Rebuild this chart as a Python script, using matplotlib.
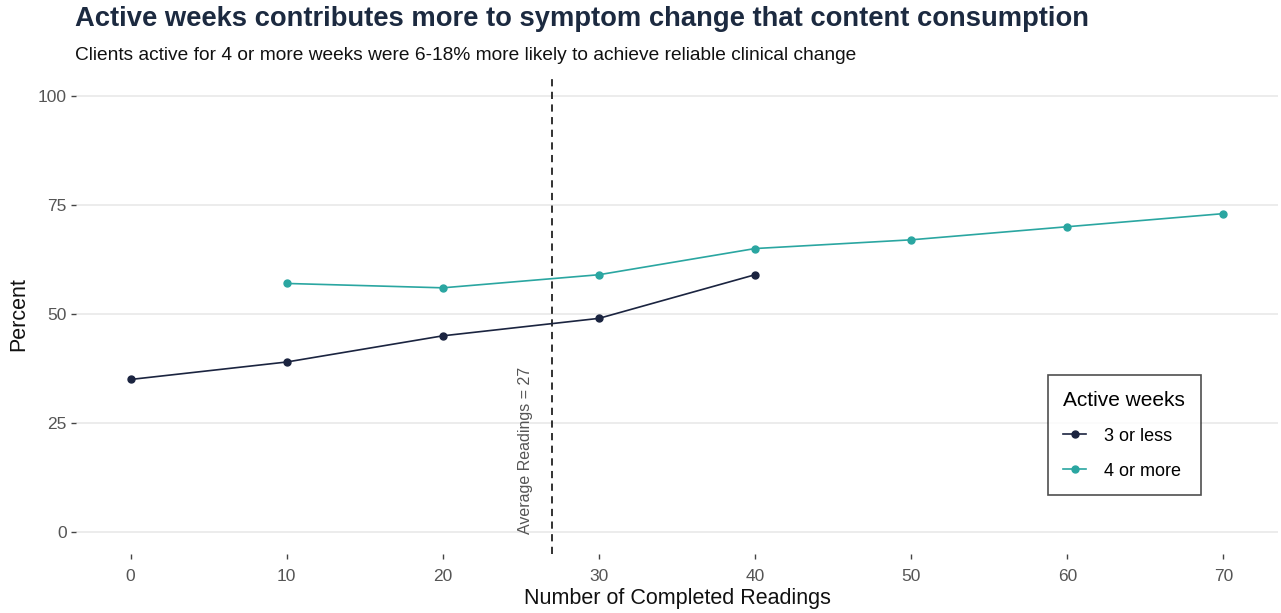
import matplotlib
matplotlib.use("Agg")
import matplotlib.pyplot as plt
from matplotlib.lines import Line2D

plt.rcParams['font.family'] = ['Liberation Sans', 'DejaVu Sans']

# Share of clients achieving reliable clinical change by completed readings
readings_low = [0, 10, 20, 30, 40]
percent_low = [35, 39, 45, 49, 59]
readings_high = [10, 20, 30, 40, 50, 60, 70]
percent_high = [57, 56, 59, 65, 67, 70, 73]
series_labels = ["3 or less", "4 or more"]
x_ticks = [0, 10, 20, 30, 40, 50, 60, 70]
y_ticks = [0, 25, 50, 75, 100]
avg_readings = 27

color_low = "#1b2440"
color_high = "#2aa6a1"

fig = plt.figure(figsize=(12.81, 6.13), dpi=100)
ax = fig.add_axes([76 / 1281, 1 - 554 / 613, (1278 - 76) / 1281, (554 - 74) / 613])

ax.set_xlim(-3.5, 73.5)
ax.set_ylim(-5, 105)

for y in y_ticks:
    ax.axhline(y, color="#ebebeb", lw=1.3, zorder=0)

ax.plot(readings_low, percent_low, color=color_low, lw=1.2, marker="o", ms=5, zorder=3)
ax.plot(readings_high, percent_high, color=color_high, lw=1.2, marker="o", ms=5, zorder=3)

ax.axvline(avg_readings, color="#222222", lw=1.3, ls=(0, (4, 3)), zorder=2)
ax.text(avg_readings - 1.7, -0.5, f"Average Readings = {avg_readings}", rotation=90,
        ha="center", va="bottom", fontsize=11.5, color="#555555")

for s in ax.spines.values():
    s.set_visible(False)

ax.set_xticks(x_ticks)
ax.set_yticks(y_ticks)
ax.tick_params(axis="both", length=3.5, width=1, color="#444444",
               labelcolor="#555555", labelsize=12.5)
ax.tick_params(axis="x", pad=7)
ax.tick_params(axis="y", pad=3)

ax.set_xlabel("Number of Completed Readings", fontsize=15.5, color="#111111", labelpad=3)
ax.set_ylabel("Percent", fontsize=15.5, color="#111111", labelpad=6)

handles = [
    Line2D([], [], color=color_low, lw=1.2, marker="o", ms=5),
    Line2D([], [], color=color_high, lw=1.2, marker="o", ms=5),
]
leg = ax.legend(handles, series_labels, title="Active weeks", loc="lower left",
                bbox_to_anchor=((1048 - 76) / (1278 - 76), (554 - 495) / (554 - 74)),
                borderaxespad=0, fontsize=13, title_fontsize=15, frameon=True,
                fancybox=False, edgecolor="#222222", handlelength=1.25,
                handletextpad=1.0, borderpad=0.85, labelspacing=1.0)
leg.get_frame().set_linewidth(1.2)
leg._legend_box.align = "left"

fig.text(75 / 1281, 1 - 19 / 613, "Active weeks contributes more to symptom change that content consumption",
         fontsize=19.7, fontweight="bold", color="#1c2a40", ha="left", va="center")
fig.text(75 / 1281, 1 - 55 / 613,
         "Clients active for 4 or more weeks were 6-18% more likely to achieve reliable clinical change",
         fontsize=13.8, color="#111111", ha="left", va="center")

fig.savefig("out.png", dpi=100)
